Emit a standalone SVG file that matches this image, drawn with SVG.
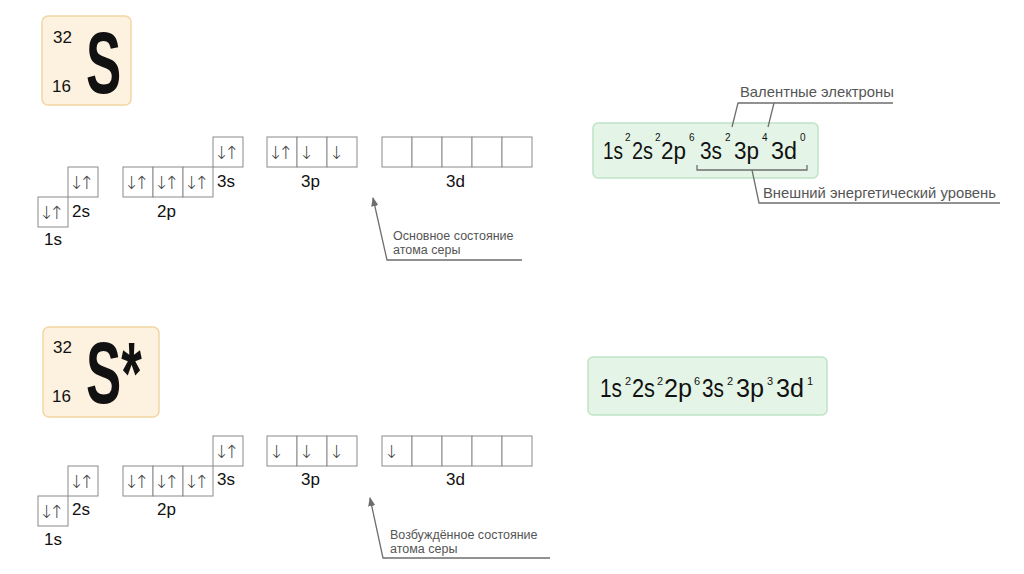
<svg xmlns="http://www.w3.org/2000/svg" width="1024" height="574" viewBox="0 0 1024 574">
<style>
.el{fill:#fdf1df;stroke:#f1d6a3;stroke-width:1.5}
.cfg{fill:#e4f5e7;stroke:#bfe3c6;stroke-width:1.5}
.ob{fill:#fff;stroke:#8a8a8a;stroke-width:1}
.t{font-family:"Liberation Sans",Arial,sans-serif;fill:#111}
.lbl{font-family:"Liberation Sans",Arial,sans-serif;font-size:17px;fill:#111}
.ar{font-family:"DejaVu Sans",sans-serif;font-weight:200;font-size:18px;fill:#444;letter-spacing:-4.8px}
.note{font-family:"Liberation Sans",Arial,sans-serif;font-size:12.5px;fill:#555}
.note2{font-family:"Liberation Sans",Arial,sans-serif;font-size:14.8px;fill:#555}
.big{font-family:"Liberation Sans",Arial,sans-serif;font-size:23px;fill:#111}
.sup{font-family:"Liberation Sans",Arial,sans-serif;font-size:10px;fill:#111}
.big2{font-family:"Liberation Sans",Arial,sans-serif;font-size:26px;fill:#111}
.sup2{font-family:"Liberation Sans",Arial,sans-serif;font-size:11px;fill:#111}
.ln{fill:none;stroke:#6e6e6e;stroke-width:1.3}
</style>
<defs>
<marker id="ah" viewBox="0 0 10 10" refX="9" refY="5" markerWidth="7" markerHeight="7" orient="auto">
<path d="M0,1 L10,5 L0,9 z" fill="#6e6e6e"/>
</marker>
</defs>

<!-- Ground state -->
<g id="element-S">
<rect class="el" x="42" y="16" width="89" height="89" rx="6"/>
<text class="t" x="53" y="43" font-size="17">32</text>
<text class="t" x="52" y="92" font-size="17">16</text>
<text class="t" font-size="88" font-weight="bold" transform="translate(86,93) scale(0.6,1)" x="0" y="0">S</text>
</g>

<g id="orbitals-ground">
<rect class="ob" x="38" y="197" width="30" height="30"/>
<text class="ar" x="39" y="219">↓↑</text>
<text class="lbl" x="44" y="245">1s</text>
<rect class="ob" x="68" y="167" width="30" height="30"/>
<text class="ar" x="69" y="189">↓↑</text>
<text class="lbl" x="72" y="217">2s</text>
<rect class="ob" x="123" y="167" width="30" height="30"/>
<rect class="ob" x="153" y="167" width="30" height="30"/>
<rect class="ob" x="183" y="167" width="30" height="30"/>
<text class="ar" x="124" y="189">↓↑</text>
<text class="ar" x="154" y="189">↓↑</text>
<text class="ar" x="184" y="189">↓↑</text>
<text class="lbl" x="157" y="217">2p</text>
<rect class="ob" x="213" y="137" width="30" height="30"/>
<text class="ar" x="214" y="159">↓↑</text>
<text class="lbl" x="217" y="187">3s</text>
<rect class="ob" x="267" y="137" width="30" height="30"/>
<rect class="ob" x="297" y="137" width="30" height="30"/>
<rect class="ob" x="327" y="137" width="30" height="30"/>
<text class="ar" x="268" y="159">↓↑</text>
<text class="ar" x="299" y="159">↓</text>
<text class="ar" x="329" y="159">↓</text>
<text class="lbl" x="301" y="187">3p</text>
<rect class="ob" x="382" y="137" width="30" height="30"/>
<rect class="ob" x="412" y="137" width="30" height="30"/>
<rect class="ob" x="442" y="137" width="30" height="30"/>
<rect class="ob" x="472" y="137" width="30" height="30"/>
<rect class="ob" x="502" y="137" width="30" height="30"/>
<text class="lbl" x="446" y="187">3d</text>
</g>

<g id="note-ground">
<text class="note" x="393" y="240">Основное состояние</text>
<text class="note" x="393" y="254">атома серы</text>
</g>

<g id="config-ground">
<rect class="cfg" x="593" y="123" width="225" height="55" rx="5"/>
<text class="big" x="603" y="159" textLength="20" lengthAdjust="spacingAndGlyphs">1s</text><text class="sup" x="625" y="141">2</text>
<text class="big" x="632" y="159" textLength="21" lengthAdjust="spacingAndGlyphs">2s</text><text class="sup" x="655" y="141">2</text>
<text class="big" x="661" y="159" textLength="25" lengthAdjust="spacingAndGlyphs">2p</text><text class="sup" x="689" y="141">6</text>
<text class="big" x="700" y="159" textLength="22" lengthAdjust="spacingAndGlyphs">3s</text><text class="sup" x="725" y="141">2</text>
<text class="big" x="734" y="159" textLength="25" lengthAdjust="spacingAndGlyphs">3p</text><text class="sup" x="762" y="141">4</text>
<text class="big" x="771" y="159" textLength="26" lengthAdjust="spacingAndGlyphs">3d</text><text class="sup" x="800" y="141">0</text>
</g>

<g id="label-valence">
<text class="note2" x="740" y="97">Валентные электроны</text>
</g>
<g id="label-outer">
<text class="note2" x="763" y="198">Внешний энергетический уровень</text>
</g>

<!-- Excited state -->
<g id="element-Sstar">
<rect class="el" x="43" y="327" width="116" height="90" rx="6"/>
<text class="t" x="53" y="353" font-size="17">32</text>
<text class="t" x="52" y="402" font-size="17">16</text>
<text class="t" font-size="88" font-weight="bold" transform="translate(86,403) scale(0.6,1)" x="0" y="0">S*</text>
</g>

<g id="orbitals-excited">
<rect class="ob" x="38" y="496" width="30" height="30"/>
<text class="ar" x="39" y="518">↓↑</text>
<text class="lbl" x="44" y="545">1s</text>
<rect class="ob" x="68" y="466" width="30" height="30"/>
<text class="ar" x="69" y="488">↓↑</text>
<text class="lbl" x="72" y="515">2s</text>
<rect class="ob" x="123" y="466" width="30" height="30"/>
<rect class="ob" x="153" y="466" width="30" height="30"/>
<rect class="ob" x="183" y="466" width="30" height="30"/>
<text class="ar" x="124" y="488">↓↑</text>
<text class="ar" x="154" y="488">↓↑</text>
<text class="ar" x="184" y="488">↓↑</text>
<text class="lbl" x="157" y="515">2p</text>
<rect class="ob" x="213" y="436" width="30" height="30"/>
<text class="ar" x="214" y="458">↓↑</text>
<text class="lbl" x="217" y="485">3s</text>
<rect class="ob" x="267" y="436" width="30" height="30"/>
<rect class="ob" x="297" y="436" width="30" height="30"/>
<rect class="ob" x="327" y="436" width="30" height="30"/>
<text class="ar" x="269" y="458">↓</text>
<text class="ar" x="299" y="458">↓</text>
<text class="ar" x="329" y="458">↓</text>
<text class="lbl" x="301" y="485">3p</text>
<rect class="ob" x="382" y="436" width="30" height="30"/>
<rect class="ob" x="412" y="436" width="30" height="30"/>
<rect class="ob" x="442" y="436" width="30" height="30"/>
<rect class="ob" x="472" y="436" width="30" height="30"/>
<rect class="ob" x="502" y="436" width="30" height="30"/>
<text class="ar" x="384" y="458">↓</text>
<text class="lbl" x="446" y="485">3d</text>
</g>

<g id="note-excited">
<text class="note" x="390" y="539">Возбуждённое состояние</text>
<text class="note" x="390" y="553">атома серы</text>
</g>

<g id="config-excited">
<rect class="cfg" x="588" y="357" width="239" height="58" rx="5"/>
<text class="big2" x="600" y="397" textLength="22" lengthAdjust="spacingAndGlyphs">1s</text><text class="sup2" x="625" y="385">2</text>
<text class="big2" x="632" y="397" textLength="23" lengthAdjust="spacingAndGlyphs">2s</text><text class="sup2" x="657" y="385">2</text>
<text class="big2" x="664" y="397" textLength="28" lengthAdjust="spacingAndGlyphs">2p</text><text class="sup2" x="694" y="385">6</text>
<text class="big2" x="702" y="397" textLength="22" lengthAdjust="spacingAndGlyphs">3s</text><text class="sup2" x="727" y="385">2</text>
<text class="big2" x="736" y="397" textLength="28" lengthAdjust="spacingAndGlyphs">3p</text><text class="sup2" x="767" y="385">3</text>
<text class="big2" x="776" y="397" textLength="28" lengthAdjust="spacingAndGlyphs">3d</text><text class="sup2" x="807" y="385">1</text>
</g>

<g id="connectors">
<path class="ln" d="M522,260 L387,260 L373,198" marker-end="url(#ah)"/>
<path class="ln" d="M550,558 L383,558 L370,498" marker-end="url(#ah)"/>
<path class="ln" d="M893,103 L738,103 L732,127"/>
<path class="ln" d="M774,103 L768,127"/>
<path class="ln" d="M697,165 L697,170 L807,170 L807,165"/>
<path class="ln" d="M752,170 L759,203 L1000,203"/>
</g>
</svg>
